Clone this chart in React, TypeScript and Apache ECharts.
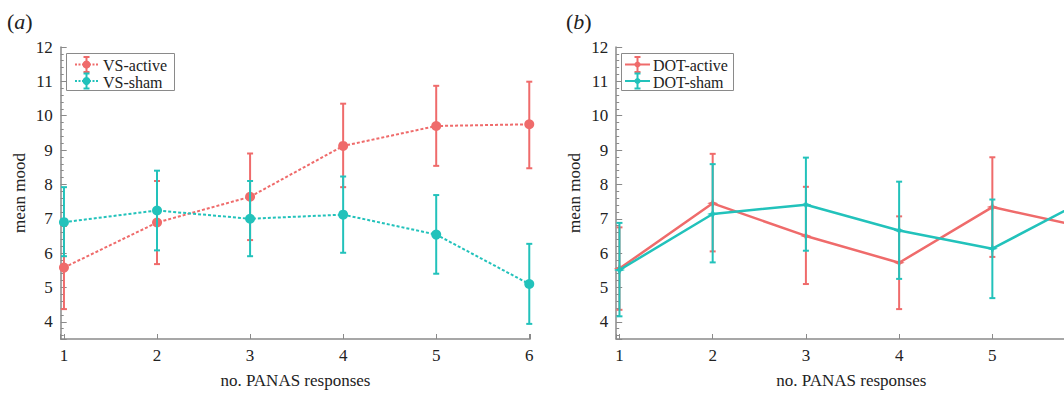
import React, { useEffect, useRef } from "react";
import * as echarts from "echarts";

const xVals = [1, 2, 3, 4, 5, 6];
const xLabelsA = [1, 2, 3, 4, 5, 6];
const xLabelsB = [1, 2, 3, 4, 5];
const yTickLabels = [4, 5, 6, 7, 8, 9, 10, 11, 12];

const vsActiveMean = [5.58, 6.89, 7.64, 9.12, 9.7, 9.75];
const vsActiveLow = [4.37, 5.68, 6.38, 7.92, 8.54, 8.47];
const vsActiveHigh = [6.79, 8.1, 8.9, 10.35, 10.87, 10.99];

const vsShamMean = [6.9, 7.24, 7.0, 7.12, 6.54, 5.1];
const vsShamLow = [5.91, 6.08, 5.91, 6.01, 5.4, 3.94];
const vsShamHigh = [7.92, 8.4, 8.1, 8.23, 7.69, 6.27];

const dotActiveMean = [5.55, 7.45, 6.5, 5.72, 7.34, 6.75];
const dotActiveLow = [4.35, 6.05, 5.1, 4.37, 5.89, 5.35];
const dotActiveHigh = [6.75, 8.89, 7.93, 7.07, 8.79, 8.15];

const dotShamMean = [5.51, 7.14, 7.41, 6.66, 6.13, 7.55];
const dotShamLow = [4.16, 5.73, 6.07, 5.25, 4.69, 6.15];
const dotShamHigh = [6.88, 8.59, 8.78, 8.08, 7.56, 8.95];

const RED = "#ef6b6b";
const TEAL = "#22c2bb";
const AXIS = "#8a8a8a";
const TEXT = "#222";
const FONT = "Liberation Serif";
const STAR =
  "path://M0,-6L1.6,-1.6L6,0L1.6,1.6L0,6L-1.6,1.6L-6,0L-1.6,-1.6Z";

function errSeries(
  name: string,
  low: number[],
  high: number[],
  color: string,
  axisIndex: number,
  z: number
) {
  return {
    type: "custom",
    name,
    xAxisIndex: axisIndex,
    yAxisIndex: axisIndex,
    z,
    silent: true,
    data: xVals.map((x, i) => [x, low[i], high[i]]),
    encode: { x: 0, y: [1, 2] },
    renderItem: (_params: any, api: any) => {
      const x = api.value(0);
      const lo = api.coord([x, api.value(1)]);
      const hi = api.coord([x, api.value(2)]);
      const w = 3;
      const st = { stroke: color, lineWidth: 2 };
      return {
        type: "group",
        children: [
          { type: "line", shape: { x1: lo[0], y1: lo[1], x2: hi[0], y2: hi[1] }, style: st },
          { type: "line", shape: { x1: lo[0] - w, y1: lo[1], x2: lo[0] + w, y2: lo[1] }, style: st },
          { type: "line", shape: { x1: hi[0] - w, y1: hi[1], x2: hi[0] + w, y2: hi[1] }, style: st },
        ],
      };
    },
  };
}

function lineSeries(
  name: string,
  mean: number[],
  color: string,
  axisIndex: number,
  dashed: boolean,
  z: number
) {
  return {
    type: "line",
    name,
    xAxisIndex: axisIndex,
    yAxisIndex: axisIndex,
    z,
    data: xVals.map((x, i) => [x, mean[i]]),
    symbol: dashed ? "circle" : STAR,
    symbolSize: dashed ? 10 : 11,
    showSymbol: true,
    itemStyle: { color },
    lineStyle: { color, width: dashed ? 2 : 2.5, type: dashed ? [3, 2] : "solid" },
    silent: true,
  };
}

function xAxisCfg(gridIndex: number, labels: number[]) {
  return {
    type: "value",
    gridIndex,
    min: 0.965,
    max: 6.01,
    splitNumber: 5,
    name: "no. PANAS responses",
    nameLocation: "middle",
    nameGap: 33,
    nameTextStyle: { fontFamily: FONT, fontSize: 17, color: TEXT },
    axisLine: { show: true, lineStyle: { color: AXIS, width: 1.5 } },
    axisTick: { show: true, inside: true, length: 5, lineStyle: { color: AXIS } },
    splitLine: { show: false },
    axisLabel: {
      margin: 8,
      fontFamily: FONT,
      fontSize: 17,
      color: TEXT,
      formatter: (v: number) => (labels.includes(v) ? String(v) : ""),
    },
  };
}

function yAxisCfg(gridIndex: number) {
  return {
    type: "value",
    gridIndex,
    min: 3.5,
    max: 12,
    splitNumber: 8,
    name: "mean mood",
    nameLocation: "middle",
    nameGap: 33,
    nameTextStyle: { fontFamily: FONT, fontSize: 17, color: TEXT },
    axisLine: { show: true, lineStyle: { color: AXIS, width: 1.5 } },
    axisTick: { show: true, inside: true, length: 6, lineStyle: { color: AXIS } },
    minorTick: { show: true, splitNumber: 5, length: 3, lineStyle: { color: AXIS } },
    splitLine: { show: false },
    axisLabel: {
      margin: 8,
      fontFamily: FONT,
      fontSize: 17,
      color: TEXT,
      formatter: (v: number) => (yTickLabels.includes(v) ? String(v) : ""),
    },
  };
}

function legendGraphics(
  bx: number,
  bw: number,
  iconX0: number,
  iconX1: number,
  textX: number,
  labels: string[],
  dashed: boolean
) {
  const rows = [64.5, 81];
  const textRows = [65.5, 82];
  const colors = [RED, TEAL];
  const els: any[] = [
    {
      type: "rect",
      shape: { x: bx, y: 53.5, width: bw, height: 37 },
      style: { fill: "#fff", stroke: AXIS, lineWidth: 1 },
      z: 100,
    },
  ];
  const cx = (iconX0 + iconX1) / 2;
  rows.forEach((cy, i) => {
    const c = colors[i];
    const st = { stroke: c, lineWidth: 2, lineDash: dashed ? [2, 1.5] : null };
    els.push({ type: "line", shape: { x1: iconX0, y1: cy, x2: iconX1, y2: cy }, style: st, z: 101 });
    els.push({ type: "line", shape: { x1: cx, y1: cy - 7.5, x2: cx, y2: cy + 7.5 }, style: { stroke: c, lineWidth: 2 }, z: 101 });
    els.push({ type: "line", shape: { x1: cx - 3, y1: cy - 7.5, x2: cx + 3, y2: cy - 7.5 }, style: { stroke: c, lineWidth: 2 }, z: 101 });
    els.push({ type: "line", shape: { x1: cx - 3, y1: cy + 7.5, x2: cx + 3, y2: cy + 7.5 }, style: { stroke: c, lineWidth: 2 }, z: 101 });
    els.push({ type: "circle", shape: { cx, cy, r: dashed ? 4 : 3 }, style: { fill: c }, z: 102 });
    els.push({
      type: "text",
      x: textX,
      y: textRows[i],
      style: {
        text: labels[i],
        fontFamily: FONT,
        fontSize: 16,
        lineHeight: 16,
        fill: TEXT,
        verticalAlign: "middle",
        align: "left",
      },
      z: 102,
    });
  });
  return els;
}

function panelLabel(x: number, letter: string) {
  return {
    type: "text",
    x,
    y: 21,
    style: {
      text: "({i|" + letter + "})",
      fontFamily: FONT,
      fontSize: 22,
      fill: TEXT,
      verticalAlign: "middle",
      rich: { i: { fontFamily: FONT, fontSize: 22, fontStyle: "italic", fill: TEXT } },
    },
  };
}

export default function App() {
  const ref = useRef<HTMLDivElement>(null);
  useEffect(() => {
    if (!ref.current) return;
    const chart = echarts.init(ref.current, null, { renderer: "svg" });
    chart.setOption({
      animation: false,
      backgroundColor: "#fff",
      grid: [
        { left: 60.7, top: 47, width: 469.5, height: 294 },
        { left: 616.2, top: 47, width: 470.3, height: 294 },
      ],
      xAxis: [xAxisCfg(0, xLabelsA), xAxisCfg(1, xLabelsB)],
      yAxis: [yAxisCfg(0), yAxisCfg(1)],
      series: [
        errSeries("VS-active err", vsActiveLow, vsActiveHigh, RED, 0, 2),
        lineSeries("VS-active", vsActiveMean, RED, 0, true, 3),
        errSeries("VS-sham err", vsShamLow, vsShamHigh, TEAL, 0, 4),
        lineSeries("VS-sham", vsShamMean, TEAL, 0, true, 5),
        errSeries("DOT-active err", dotActiveLow, dotActiveHigh, RED, 1, 2),
        lineSeries("DOT-active", dotActiveMean, RED, 1, false, 3),
        errSeries("DOT-sham err", dotShamLow, dotShamHigh, TEAL, 1, 4),
        lineSeries("DOT-sham", dotShamMean, TEAL, 1, false, 5),
      ],
      graphic: [
        panelLabel(7, "a"),
        panelLabel(566, "b"),
        ...legendGraphics(66.5, 108, 75, 98, 103, ["VS-active", "VS-sham"], true),
        ...legendGraphics(621.5, 112, 625, 650, 653, ["DOT-active", "DOT-sham"], false),
      ],
    });
    return () => chart.dispose();
  }, []);
  return (
    <div
      style={{
        position: "absolute",
        left: 0,
        top: 0,
        width: 1064,
        height: 394,
        overflow: "hidden",
      }}
    >
      <div ref={ref} style={{ width: 1120, height: 394 }} />
    </div>
  );
}
